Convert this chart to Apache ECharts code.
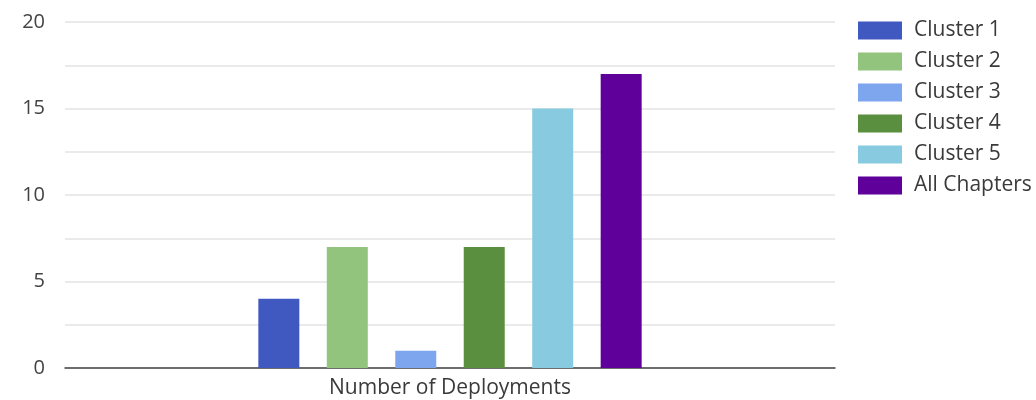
<!DOCTYPE html>
<html><head><meta charset="utf-8">
<script src="https://cdn.jsdelivr.net/npm/echarts@6/dist/echarts.min.js"></script>
<style>html,body{margin:0;padding:0;background:#fff}#c{width:1036px;height:400px}</style>
</head><body><div id="c"></div>
<script>
const categories = ['Number of Deployments'];
const seriesNames = ['Cluster 1','Cluster 2','Cluster 3','Cluster 4','Cluster 5','All Chapters'];
const seriesValues = [[4],[7],[1],[7],[15],[17]];
const colors = ['#4059c0','#93c47d','#7ea6ef','#5a8f3f','#88cbe0','#5e0099'];
const yTicks = [0,5,10,15,20];

const chart = echarts.init(document.getElementById('c'));
const font = 'Open Sans';
chart.setOption({
  animation:false,
  textStyle:{fontFamily:font},
  grid:{left:65,right:201,top:22,bottom:32,containLabel:false},
  legend:{
    orient:'vertical', left:858, top:20, padding:0, itemWidth:44, itemHeight:18, itemGap:10,
    icon:'rect',
    textStyle:{fontSize:21,lineHeight:21,color:'#3a3a3a',fontFamily:font, padding:[0,0,0,7]},
    data:seriesNames
  },
  xAxis:{type:'category',data:categories,
    axisLine:{lineStyle:{color:'#444',width:1.5}},
    axisTick:{show:false},
    axisLabel:{fontSize:21,color:'#3a3a3a',margin:10,fontFamily:font}
  },
  yAxis:{type:'value',min:0,max:20,interval:2.5,
    axisLine:{show:false},axisTick:{show:false},
    splitLine:{lineStyle:{color:'#e3e3e3',width:1.5}},
    axisLabel:{fontSize:20,color:'#444',margin:20,fontFamily:font,
      formatter:v=> yTicks.includes(v)? String(v):''}
  },
  series: seriesNames.map((n,i)=>({
    name:n,type:'bar',data:seriesValues[i],barWidth:41,barGap:'67%',
    itemStyle:{color:colors[i]}
  }))
});
</script></body></html>
